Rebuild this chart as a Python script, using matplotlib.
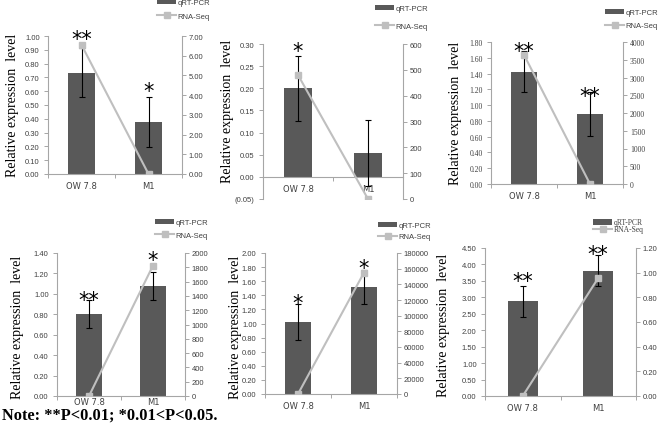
import matplotlib.pyplot as plt
from matplotlib.patches import Patch
from matplotlib.lines import Line2D
from matplotlib.ticker import FuncFormatter, MultipleLocator, FixedLocator

W, H = 660, 427

categories = ["OW 7.8", "M1"]

# qRT-PCR bars (left axis), error bars, RNA-Seq line (right axis), significance marks
qpcr_1 = [0.735, 0.375]
err_1 = [0.18, 0.18]
seq_1 = [6.55, 0.0]
stars_1 = ["**", "*"]

qpcr_2 = [0.200, 0.054]
err_2 = [0.073, 0.074]
seq_2 = [480, 0]
stars_2 = ["*", ""]

qpcr_3 = [1.42, 0.885]
err_3 = [0.26, 0.275]
seq_3 = [3640, 0]
stars_3 = ["**", "**"]

qpcr_4 = [0.805, 1.076]
err_4 = [0.137, 0.14]
seq_4 = [0, 1825]
stars_4 = ["**", "*"]

qpcr_5 = [1.026, 1.52]
err_5 = [0.255, 0.245]
seq_5 = [0, 155000]
stars_5 = ["*", "*"]

qpcr_6 = [2.88, 3.81]
err_6 = [0.47, 0.48]
seq_6 = [0, 0.957]
stars_6 = ["**", "**"]

note = "Note: **P<0.01; *0.01<P<0.05."

bar_color = "#595959"
line_color = "#bfbfbf"
spine_color = "#a6a6a6"
text_color = "#404040"
sans = "Liberation Sans"
serif = "Liberation Serif"


def fmt2(v, pos):
    return "%.2f" % v


def fmt0(v, pos):
    return "%.0f" % v


def fmt_paren(v, pos):
    if v < -1e-9:
        return "(%.2f)" % abs(v)
    return "%.2f" % v


# layout of each panel: axes box in pixels (left, top, right, bottom), scales, text spots
panels = [
    dict(q=qpcr_1, e=err_1, s=seq_1, st=stars_1, box=(48, 37, 182, 175),
         ylim=(0, 1.0), ystep=0.1, yfmt=fmt2, rlim=(0, 7), rstep=1, rfmt=fmt2, xpad=5,
         star_y=(1.03, 0.65), leg=(157, 0), ls=0.8, ylab=(13, 105), tfont=sans, lfont=sans),
    dict(q=qpcr_2, e=err_2, s=seq_2, st=stars_2, box=(263, 45, 403, 200),
         ylim=(-0.05, 0.30), ystep=0.05, yfmt=fmt_paren, rlim=(0, 600), rstep=100, rfmt=fmt0, xpad=5,
         star_y=(0.30, 0), leg=(375, 5.5), ls=1.35, ylab=(227, 111), tfont=sans, lfont=sans),
    dict(q=qpcr_3, e=err_3, s=seq_3, st=stars_3, box=(491, 43, 623, 185),
         ylim=(0, 1.8), ystep=0.2, yfmt=fmt2, rlim=(0, 4000), rstep=500, rfmt=fmt0, xpad=5,
         star_y=(1.775, 1.204), leg=(605, 9.5), ls=0.8, ylab=(455, 113), tfont=serif, lfont=sans),
    dict(q=qpcr_4, e=err_4, s=seq_4, st=stars_4, box=(57, 254, 185, 397),
         ylim=(0, 1.4), ystep=0.2, yfmt=fmt2, rlim=(0, 2000), rstep=200, rfmt=fmt0, xpad=0.5,
         star_y=(1.008, 1.40), leg=(155, 219.5), ls=0.7, ylab=(18, 327), tfont=sans, lfont=sans),
    dict(q=qpcr_5, e=err_5, s=seq_5, st=stars_5, box=(265, 254, 397, 395),
         ylim=(0, 2.0), ystep=0.2, yfmt=fmt2, rlim=(0, 180000), rstep=20000, rfmt=fmt0, xpad=5,
         star_y=(1.39, 1.887), leg=(378, 222.5), ls=0.55, ylab=(235, 327), tfont=sans, lfont=sans),
    dict(q=qpcr_6, e=err_6, s=seq_6, st=stars_6, box=(485, 249, 636, 397),
         ylim=(0, 4.5), ystep=0.5, yfmt=fmt2, rlim=(0, 1.2), rstep=0.2, rfmt=fmt2, xpad=5,
         star_y=(3.71, 4.53), leg=(593, 219.5), ls=-0.15, ylab=(443, 325), tfont=sans, lfont=serif),
]

fig = plt.figure(figsize=(W / 100, H / 100), dpi=100)

for p in panels:
    x0, y0, x1, y1 = p["box"]
    ax = fig.add_axes([x0 / W, 1 - y1 / H, (x1 - x0) / W, (y1 - y0) / H])
    ax2 = ax.twinx()
    xs = list(range(len(categories)))

    ax.bar(xs, p["q"], width=0.4, color=bar_color, zorder=2)
    ax.errorbar(xs, p["q"], yerr=p["e"], fmt="none", ecolor="black", elinewidth=0.8,
                capsize=2, capthick=0.8, zorder=3)
    ax2.plot(xs, p["s"], color=line_color, lw=1.5, marker="s", ms=5,
             markerfacecolor=line_color, markeredgecolor=line_color, zorder=4)

    ax.set_xlim(-0.5, len(categories) - 0.5)
    ax.set_ylim(*p["ylim"])
    ax2.set_ylim(*p["rlim"])
    ax.yaxis.set_major_locator(MultipleLocator(p["ystep"]))
    ax2.yaxis.set_major_locator(MultipleLocator(p["rstep"]))
    ax.yaxis.set_major_formatter(FuncFormatter(p["yfmt"]))
    ax2.yaxis.set_major_formatter(FuncFormatter(p["rfmt"]))

    ax.set_xticks(xs)
    ax.set_xticklabels(categories)
    ax.xaxis.set_minor_locator(FixedLocator([-0.5, 0.5, 1.5]))
    ax.tick_params(axis="x", which="major", length=0, pad=p["xpad"], labelsize=6,
                   labelcolor=text_color)
    ax.tick_params(axis="x", which="minor", length=3, width=0.7, color=spine_color)
    ax.tick_params(axis="y", length=3, width=0.7, color=spine_color, pad=3,
                   labelsize=5.5, labelcolor=text_color)
    ax2.tick_params(axis="y", length=3, width=0.7, color=spine_color, pad=2,
                    labelsize=5.5, labelcolor=text_color)
    for lab in ax.get_xticklabels():
        lab.set_family(sans)
    for lab in ax.get_yticklabels() + ax2.get_yticklabels():
        lab.set_family(p["tfont"])

    for a in (ax, ax2):
        a.spines["top"].set_visible(False)
        a.patch.set_visible(False)
        for side in ("left", "right", "bottom"):
            a.spines[side].set_color(spine_color)
            a.spines[side].set_linewidth(0.8)
    ax.spines["right"].set_visible(False)
    ax2.spines["left"].set_visible(False)
    ax2.spines["bottom"].set_visible(False)
    ax.spines["bottom"].set_position(("data", 0))

    for i, s in enumerate(p["st"]):
        if s:
            ax2.annotate(s, xy=(xs[i], p["star_y"][i]), xycoords=ax.transData,
                         xytext=(0, -9.5), textcoords="offset points",
                         ha="center", va="baseline", fontsize=15, color="black",
                         family="DejaVu Sans", annotation_clip=False, zorder=5)

    handles = [Patch(facecolor=bar_color, edgecolor="none", label="qRT-PCR"),
               Line2D([], [], color=line_color, lw=1.5, marker="s", ms=4,
                      markerfacecolor=line_color, markeredgecolor=line_color, label="RNA-Seq")]
    lx, ly = p["leg"]
    ax2.legend(handles=handles, loc="upper left", bbox_to_anchor=(lx / W, 1 - ly / H),
               bbox_transform=fig.transFigure, frameon=False,
               prop={"family": p["lfont"], "size": 5.5}, labelcolor=text_color,
               handlelength=2.5, handletextpad=0.2, labelspacing=p["ls"],
               borderpad=0, borderaxespad=0)

    tx, ty = p["ylab"]
    fig.text(tx / W, 1 - ty / H, "Relative expression  level", rotation=90,
             ha="center", va="center", fontsize=10, family=serif, color="black")

fig.text(2 / W, 1 - 416 / H, note, ha="left", va="center", fontsize=11.8,
         fontweight="bold", family=serif, color="black")

fig.savefig("out.png", dpi=100)
